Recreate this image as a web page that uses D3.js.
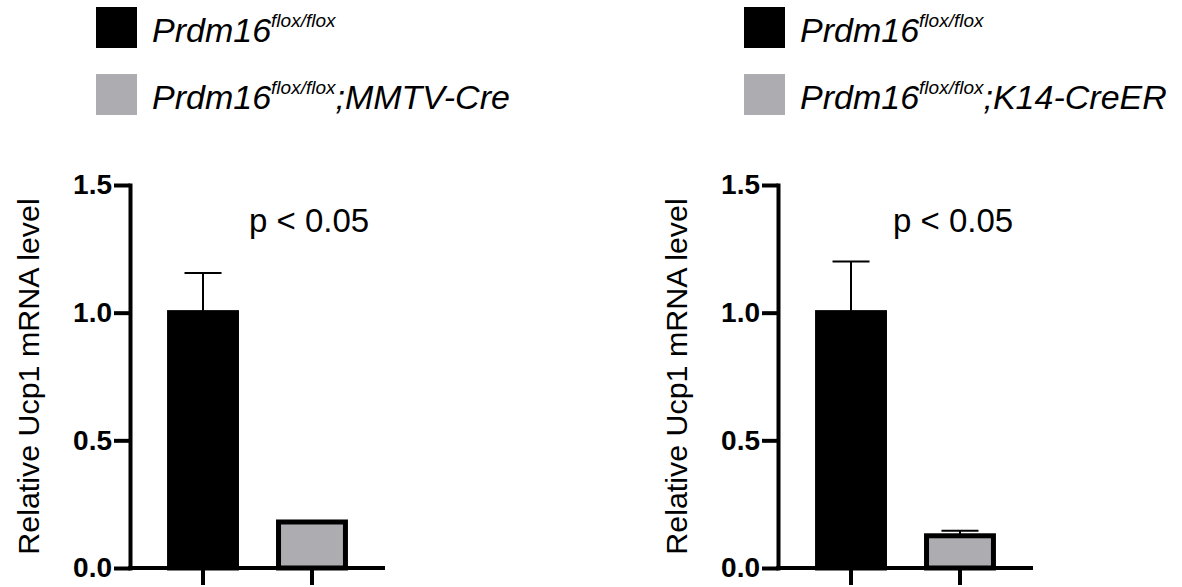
<!DOCTYPE html>
<html><head><meta charset="utf-8">
<script src="https://cdn.jsdelivr.net/npm/d3@7"></script>
<style>
body{margin:0;background:#fff}
text{font-family:"Liberation Sans",Arial,Helvetica,sans-serif}
</style>
</head><body>
<svg id="c" width="1182" height="587"></svg>
<script>
// ---- data ----
const categories = ["control", "knockout"];
const legendBase = "Prdm16";
const legendSup = "flox/flox";
const creLines = ["MMTV-Cre", "K14-CreER"];
const meansMMTV = [1.01, 0.19];
const errMMTV = [0.145, 0.0];
const meansK14 = [1.01, 0.136];
const errK14 = [0.19, 0.01];
const yTicks = [0.0, 0.5, 1.0, 1.5];
const pLabels = ["p < 0.05", "p < 0.05"];
const yTitle = "Relative Ucp1 mRNA level";
const colors = ["#000000", "#adacb1"];

// ---- layout ----
const svg = d3.select("#c");
const panels = [
  {x0: 130, means: meansMMTV, errs: errMMTV, cre: creLines[0], p: pLabels[0], px: 119},
  {x0: 778, means: meansK14, errs: errK14, cre: creLines[1], p: pLabels[1], px: 115}
];
const axisW = 255, yTop = 185, yBot = 568;
const sw = 5;

panels.forEach(P => {
  const g = svg.append("g");
  const x = d3.scaleBand().domain(categories).range([P.x0, P.x0 + axisW])
    .paddingInner(0.34).paddingOuter(0.34);
  const y = d3.scaleLinear().domain([0, 1.5]).range([yBot, yTop]);
  const bw = x.bandwidth();

  // legend
  const lg = g.append("g");
  const sq = 41;
  const rows = [
    {c: colors[0], y: 7, suffix: ""},
    {c: colors[1], y: 74, suffix: ";" + P.cre}
  ];
  rows.forEach(r => {
    lg.append("rect").attr("x", P.x0 - 34).attr("y", r.y).attr("width", sq).attr("height", sq).attr("fill", r.c);
    const t = lg.append("text").attr("x", P.x0 + 22).attr("y", r.y + sq/2 + 14)
      .attr("font-size", 34).attr("font-style", "italic").attr("fill", "#000");
    t.append("tspan").text(legendBase);
    t.append("tspan").attr("font-size", 19).attr("dy", -15).text(legendSup);
    if (r.suffix) t.append("tspan").attr("font-size", 34).attr("dy", 15).text(r.suffix);
  });

  // error bars (behind bars)
  categories.forEach((c, i) => {
    const e = P.errs[i];
    if (e <= 0) return;
    const cx = x(c) + bw / 2;
    g.append("line").attr("x1", cx).attr("x2", cx)
      .attr("y1", y(P.means[i]) + 3).attr("y2", y(P.means[i] + e))
      .attr("stroke", "#000").attr("stroke-width", 2);
    g.append("line").attr("x1", cx - 18.5).attr("x2", cx + 18.5)
      .attr("y1", y(P.means[i] + e)).attr("y2", y(P.means[i] + e))
      .attr("stroke", "#000").attr("stroke-width", 2);
  });

  // bars
  g.selectAll("rect.bar").data(categories).join("rect").attr("class", "bar")
    .attr("x", c => x(c) + sw / 2)
    .attr("width", bw - sw)
    .attr("y", (c, i) => y(P.means[i]) + sw / 2)
    .attr("height", (c, i) => y(0) - y(P.means[i]) - sw / 2)
    .attr("fill", (c, i) => colors[i])
    .attr("stroke", "#000").attr("stroke-width", sw);

  // y axis
  const ya = g.append("g").attr("transform", `translate(${P.x0},0)`)
    .call(d3.axisLeft(y).tickValues(yTicks).tickFormat(d3.format(".1f"))
      .tickSize(16).tickSizeOuter(0).tickPadding(2));
  ya.select(".domain").attr("stroke-width", 4).attr("stroke-linecap", "square");
  ya.selectAll(".tick line").attr("stroke-width", 4);
  ya.selectAll(".tick text").attr("font-size", 28).attr("font-weight", "bold").attr("fill", "#000");

  // x axis
  const xa = g.append("g").attr("transform", `translate(0,${yBot})`)
    .call(d3.axisBottom(x).tickSize(17).tickSizeOuter(0).tickFormat(""));
  xa.select(".domain").attr("stroke-width", 4).attr("d", `M${P.x0 - 2},0H${P.x0 + axisW}`);
  xa.selectAll(".tick line").attr("stroke-width", 4);

  // y title
  g.append("text").attr("transform", `translate(${P.x0 - 91},${(yTop + yBot) / 2}) rotate(-90)`)
    .attr("text-anchor", "middle").attr("font-size", 30.4).attr("fill", "#000").text(yTitle);

  // p label
  g.append("text").attr("x", P.x0 + P.px).attr("y", 232).attr("font-size", 33)
    .attr("fill", "#000").text(P.p);
});
</script>
</body></html>
